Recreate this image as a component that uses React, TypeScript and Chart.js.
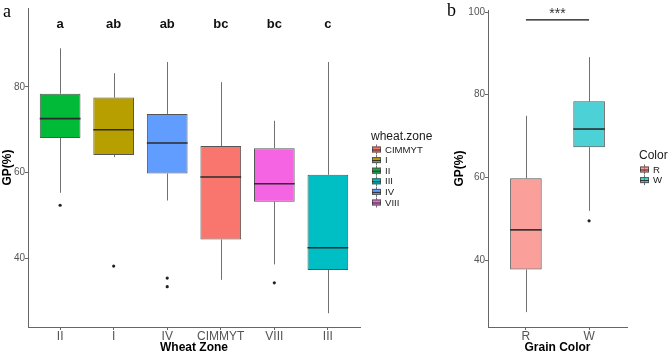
import { useEffect, useRef } from 'react';
import { Chart, registerables } from 'chart.js';

Chart.register(...registerables);

// Panel a: germination percentage by wheat zone
const zoneNames = ['II', 'I', 'IV', 'CIMMYT', 'VIII', 'III'];
const zoneLetters = ['a', 'ab', 'ab', 'bc', 'bc', 'c'];
const zoneLow = [55.3, 63.6, 53.5, 35.0, 38.6, 27.2];
const zoneQ1 = [68.1, 64.1, 59.8, 44.4, 53.2, 37.3];
const zoneMedian = [72.6, 70.0, 66.9, 59.0, 57.4, 42.5];
const zoneQ3 = [78.4, 77.5, 73.7, 66.2, 65.7, 59.5];
const zoneHigh = [89.0, 83.2, 85.8, 81.1, 72.1, 85.8];
const zoneOutliers = [[52.4], [38.2], [35.4, 33.4], [], [34.3], []];
const zoneLegend = ['CIMMYT', 'I', 'II', 'III', 'IV', 'VIII'];
const zoneTicks = [40, 60, 80];

// Panel b: germination percentage by grain colour
const grainNames = ['R', 'W'];
const grainLow = [27.4, 51.9];
const grainQ1 = [37.7, 67.3];
const grainMedian = [47.3, 71.7];
const grainQ3 = [59.8, 78.4];
const grainHigh = [74.9, 89.1];
const grainOutliers = [[], [49.5]];
const grainSignif = '***';
const grainTicks = [40, 60, 80, 100];

const SANS = '"Liberation Sans", Arial, sans-serif';
const SERIF = '"Liberation Serif", "Times New Roman", serif';
const WHISKER = '#707070';
const BOX_EDGE = '#555555';
const MEDIAN = '#2b2b2b';
const AXIS = '#666666';

const zonePalette: Record<string, string> = {
  CIMMYT: '#F8766D',
  I: '#B79F00',
  II: '#00BA38',
  III: '#00BFC4',
  IV: '#619CFF',
  VIII: '#F564E3',
};
const grainPalette: Record<string, string> = {
  R: 'rgba(248,118,109,0.7)',
  W: 'rgba(0,191,196,0.7)',
};

const LETTER_Y = 93.7;
const SIGNIF_Y = 98.1;

type BoxStats = { low: number[]; q1: number[]; median: number[]; q3: number[]; high: number[] };

function boxDetails(s: BoxStats) {
  return {
    id: 'boxDetails',
    beforeDatasetsDraw(chart: any) {
      const { ctx } = chart;
      const x = chart.scales.x;
      const y = chart.scales.y;
      ctx.save();
      ctx.strokeStyle = WHISKER;
      ctx.lineWidth = 1;
      s.low.forEach((lo, i) => {
        const cx = Math.round(x.getPixelForValue(i + 1)) + 0.5;
        ctx.beginPath();
        ctx.moveTo(cx, y.getPixelForValue(s.high[i]));
        ctx.lineTo(cx, y.getPixelForValue(s.q3[i]));
        ctx.moveTo(cx, y.getPixelForValue(s.q1[i]));
        ctx.lineTo(cx, y.getPixelForValue(lo));
        ctx.stroke();
      });
      ctx.restore();
    },
    afterDatasetsDraw(chart: any) {
      const { ctx } = chart;
      const y = chart.scales.y;
      const bars = chart.getDatasetMeta(0).data;
      ctx.save();
      ctx.strokeStyle = MEDIAN;
      ctx.lineWidth = 1.6;
      bars.forEach((bar: any, i: number) => {
        const py = y.getPixelForValue(s.median[i]);
        ctx.beginPath();
        ctx.moveTo(bar.x - bar.width / 2, py);
        ctx.lineTo(bar.x + bar.width / 2, py);
        ctx.stroke();
      });
      ctx.restore();
    },
  };
}

function drawKey(ctx: CanvasRenderingContext2D, x: number, cy: number, fill: string) {
  ctx.strokeStyle = WHISKER;
  ctx.lineWidth = 1;
  ctx.beginPath();
  ctx.moveTo(x + 4.5, cy - 5);
  ctx.lineTo(x + 4.5, cy + 5);
  ctx.stroke();
  ctx.fillStyle = fill;
  ctx.fillRect(x, cy - 3, 9, 6);
  ctx.strokeStyle = BOX_EDGE;
  ctx.strokeRect(x + 0.5, cy - 2.5, 8, 5);
  ctx.strokeStyle = MEDIAN;
  ctx.beginPath();
  ctx.moveTo(x, cy + 0.5);
  ctx.lineTo(x + 9, cy + 0.5);
  ctx.stroke();
}

function legendPlugin(title: string, names: string[], palette: Record<string, string>, x: number, titleBaseline: number, firstRow: number) {
  return {
    id: 'boxLegend',
    afterDraw(chart: any) {
      const { ctx } = chart;
      ctx.save();
      ctx.fillStyle = '#1a1a1a';
      ctx.font = `12px ${SANS}`;
      ctx.textAlign = 'left';
      ctx.textBaseline = 'alphabetic';
      ctx.fillText(title, x, titleBaseline);
      names.forEach((name, i) => {
        const cy = firstRow + i * 10.6;
        drawKey(ctx, x + 1, cy, palette[name]);
        ctx.fillStyle = '#1a1a1a';
        ctx.font = `9.6px ${SANS}`;
        ctx.textBaseline = 'middle';
        ctx.fillText(name, x + 14, cy + 0.5);
      });
      ctx.restore();
    },
  };
}

function panelTag(text: string, x: number, baseline: number) {
  return {
    id: 'panelTag',
    afterDraw(chart: any) {
      const { ctx } = chart;
      ctx.save();
      ctx.fillStyle = '#000';
      ctx.font = `18px ${SERIF}`;
      ctx.textAlign = 'left';
      ctx.textBaseline = 'alphabetic';
      ctx.fillText(text, x, baseline);
      ctx.restore();
    },
  };
}

const groupLetters = {
  id: 'groupLetters',
  afterDraw(chart: any) {
    const { ctx } = chart;
    const x = chart.scales.x;
    const y = chart.scales.y;
    ctx.save();
    ctx.fillStyle = '#111';
    ctx.font = `bold 13px ${SANS}`;
    ctx.textAlign = 'center';
    ctx.textBaseline = 'alphabetic';
    zoneLetters.forEach((t, i) => ctx.fillText(t, x.getPixelForValue(i + 1), y.getPixelForValue(LETTER_Y)));
    ctx.restore();
  },
};

const signifBar = {
  id: 'signifBar',
  afterDraw(chart: any) {
    const { ctx } = chart;
    const x = chart.scales.x;
    const y = chart.scales.y;
    const py = y.getPixelForValue(SIGNIF_Y);
    const x1 = x.getPixelForValue(1);
    const x2 = x.getPixelForValue(2);
    ctx.save();
    ctx.strokeStyle = '#111';
    ctx.lineWidth = 1.4;
    ctx.beginPath();
    ctx.moveTo(x1, py);
    ctx.lineTo(x2, py);
    ctx.stroke();
    ctx.fillStyle = '#333';
    ctx.font = `14px ${SANS}`;
    ctx.textAlign = 'center';
    ctx.textBaseline = 'alphabetic';
    ctx.fillText(grainSignif, (x1 + x2) / 2, py - 2);
    ctx.restore();
  },
};

type PanelSpec = {
  names: string[];
  colors: string[];
  stats: BoxStats;
  outliers: number[][];
  yMin: number;
  yMax: number;
  yTicks: number[];
  boxWidth: number;
  xTitle: string;
  yAxisWidth: number;
  yTitleOffset: number;
  padding: { top: number; right: number; left: number; bottom: number };
  plugins: any[];
};

function buildChart(canvas: HTMLCanvasElement, p: PanelSpec) {
  const outlierPoints = p.outliers.flatMap((vals, i) => vals.map((v) => ({ x: i + 1, y: v })));
  return new Chart(canvas, {
    type: 'bar',
    data: {
      datasets: [
        {
          type: 'bar',
          data: p.names.map((_, i) => ({ x: i + 1, y: [p.stats.q1[i], p.stats.q3[i]] })) as any,
          backgroundColor: p.colors,
          borderColor: BOX_EDGE,
          borderWidth: 1,
          borderSkipped: false,
          categoryPercentage: 1,
          barPercentage: p.boxWidth,
        } as any,
        {
          type: 'scatter',
          data: outlierPoints,
          pointRadius: 1.6,
          pointBackgroundColor: '#222',
          pointBorderWidth: 0,
        } as any,
      ],
    },
    options: {
      responsive: false,
      maintainAspectRatio: false,
      animation: false,
      devicePixelRatio: 1,
      layout: { padding: p.padding },
      plugins: { legend: { display: false }, tooltip: { enabled: false } },
      scales: {
        x: {
          type: 'linear',
          offset: false,
          min: 0.4,
          max: p.names.length + 0.6,
          afterBuildTicks: (s: any) => {
            s.ticks = p.names.map((_, i) => ({ value: i + 1 }));
          },
          afterFit: (s: any) => {
            s.height = 28;
          },
          ticks: {
            autoSkip: false,
            maxRotation: 0,
            padding: -1,
            color: '#555',
            font: { family: SANS, size: 12 },
            callback: (v: any) => p.names[Math.round(Number(v)) - 1] ?? '',
          },
          grid: { display: true, offset: false, drawOnChartArea: false, drawTicks: true, tickLength: 3, color: AXIS },
          border: { display: true, color: AXIS, width: 1 },
          title: {
            display: true,
            text: p.xTitle,
            color: '#000',
            font: { family: SANS, size: 12, weight: 'bold' },
            padding: { top: 0, bottom: 0 },
          },
        },
        y: {
          type: 'linear',
          min: p.yMin,
          max: p.yMax,
          afterBuildTicks: (s: any) => {
            s.ticks = p.yTicks.map((v) => ({ value: v }));
          },
          afterFit: (s: any) => {
            s.width = p.yAxisWidth;
          },
          ticks: {
            padding: 0,
            color: '#555',
            font: { family: SANS, size: 10 },
          },
          grid: { display: true, drawOnChartArea: false, drawTicks: true, tickLength: 3, color: AXIS },
          border: { display: true, color: AXIS, width: 1 },
          title: {
            display: true,
            text: 'GP(%)',
            color: '#000',
            font: { family: SANS, size: 12, weight: 'bold' },
            padding: { top: p.yTitleOffset, bottom: 0 },
          },
        },
      },
    } as any,
    plugins: p.plugins,
  });
}

export default function App() {
  const refA = useRef<HTMLCanvasElement | null>(null);
  const refB = useRef<HTMLCanvasElement | null>(null);

  useEffect(() => {
    if (!refA.current || !refB.current) return;
    const zoneStats = { low: zoneLow, q1: zoneQ1, median: zoneMedian, q3: zoneQ3, high: zoneHigh };
    const grainStats = { low: grainLow, q1: grainQ1, median: grainMedian, q3: grainQ3, high: grainHigh };

    const chartA = buildChart(refA.current, {
      names: zoneNames,
      colors: zoneNames.map((n) => zonePalette[n]),
      stats: zoneStats,
      outliers: zoneOutliers,
      yMin: 24,
      yMax: 98.4,
      yTicks: zoneTicks,
      boxWidth: 0.76,
      xTitle: 'Wheat Zone',
      yAxisWidth: 28,
      yTitleOffset: 0,
      padding: { top: 8, right: 80, left: 0, bottom: 0 },
      plugins: [
        boxDetails(zoneStats),
        groupLetters,
        legendPlugin('wheat.zone', zoneLegend, zonePalette, 371, 140, 149.5),
        panelTag('a', 3, 17),
      ],
    });

    const chartB = buildChart(refB.current, {
      names: grainNames,
      colors: grainNames.map((n) => grainPalette[n]),
      stats: grainStats,
      outliers: grainOutliers,
      yMin: 23.8,
      yMax: 100.5,
      yTicks: grainTicks,
      boxWidth: 0.5,
      xTitle: 'Grain Color',
      yAxisWidth: 48,
      yTitleOffset: 12.8,
      padding: { top: 10, right: 42, left: 0, bottom: 0 },
      plugins: [
        boxDetails(grainStats),
        signifBar,
        legendPlugin('Color', grainNames, grainPalette, 199, 159, 169.5),
        panelTag('b', 7, 16),
      ],
    });

    return () => {
      chartA.destroy();
      chartB.destroy();
    };
  }, []);

  return (
    <div style={{ position: 'fixed', left: 0, top: 0, width: 669, height: 355, background: '#fff' }}>
      <canvas ref={refA} width={440} height={355} style={{ position: 'absolute', left: 0, top: 0, width: 440, height: 355 }} />
      <canvas ref={refB} width={229} height={355} style={{ position: 'absolute', left: 440, top: 0, width: 229, height: 355 }} />
    </div>
  );
}
